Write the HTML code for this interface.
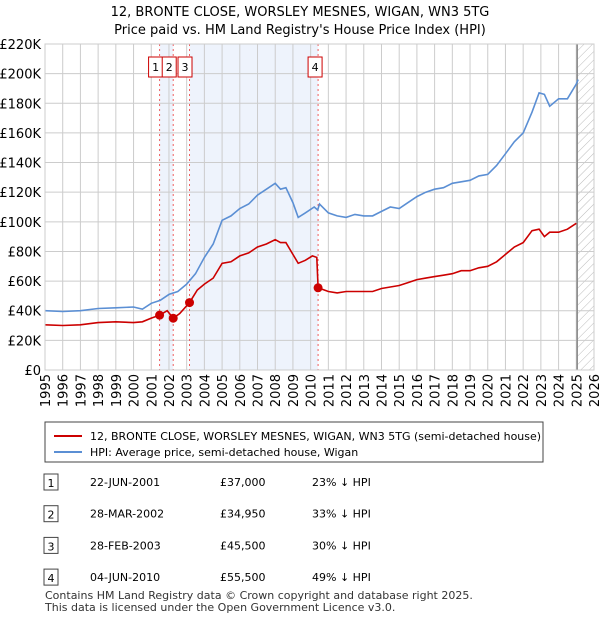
<!DOCTYPE html>
<html><head><meta charset="utf-8"><style>
body{margin:0;width:600px;height:620px;background:#fff;font-family:"Liberation Sans","DejaVu Sans",sans-serif;color:#222;overflow:hidden}
svg text{font-family:"DejaVu Sans","Liberation Sans",sans-serif}
</style></head><body>
<svg id="c" width="600" height="620">
<defs><pattern id="h" width="6" height="6" patternUnits="userSpaceOnUse" patternTransform="rotate(45)"><line x1="0" y1="0" x2="0" y2="6" stroke="#bbb" stroke-width="1"/></pattern></defs>
<text x="300" y="16" text-anchor="middle" font-size="13">12, BRONTE CLOSE, WORSLEY MESNES, WIGAN, WN3 5TG</text>
<text x="300" y="34" text-anchor="middle" font-size="13">Price paid vs. HM Land Registry's House Price Index (HPI)</text>
<g id="g"></g>
<rect x="45" y="422" width="498" height="40" fill="#fff" stroke="#444"/>
<line x1="54" y1="436" x2="82" y2="436" stroke="#cc0000" stroke-width="2"/>
<text x="90" y="440" font-size="11">12, BRONTE CLOSE, WORSLEY MESNES, WIGAN, WN3 5TG (semi-detached house)</text>
<line x1="54" y1="452" x2="82" y2="452" stroke="#5b8fd4" stroke-width="2"/>
<text x="90" y="456" font-size="11">HPI: Average price, semi-detached house, Wigan</text>
<g id="tbl" font-size="11"></g>
<text x="45" y="599" font-size="11" fill="#333">Contains HM Land Registry data © Crown copyright and database right 2025.</text>
<text x="45" y="611" font-size="11" fill="#333">This data is licensed under the Open Government Licence v3.0.</text>
</svg>
<script>
const hpiX=[1995,1996,1997,1998,1999,2000,2000.5,2001,2001.5,2002,2002.5,2003,2003.5,2004,2004.5,2005,2005.5,2006,2006.5,2007,2007.5,2008,2008.3,2008.6,2009,2009.3,2009.7,2010.2,2010.4,2010.5,2011,2011.5,2012,2012.5,2013,2013.5,2014,2014.5,2015,2015.5,2016,2016.5,2017,2017.5,2018,2018.5,2019,2019.5,2020,2020.5,2021,2021.5,2022,2022.5,2022.9,2023.2,2023.5,2024,2024.5,2025,2025.1];
const hpiY=[40,39.5,40,41.5,42,42.5,41,45,47,51,53,58,65,76,85,101,104,109,112,118,122,126,122,123,113,103,106,110,108,112,106,104,103,105,104,104,107,110,109,113,117,120,122,123,126,127,128,131,132,138,146,154,160,174,187,186,178,183,183,193,196];
const ppX=[1995,1996,1997,1998,1999,2000,2000.5,2001,2001.47,2001.9,2002.24,2002.6,2003.16,2003.6,2004,2004.5,2005,2005.5,2006,2006.5,2007,2007.5,2008,2008.3,2008.6,2009,2009.3,2009.7,2010.1,2010.35,2010.42,2011,2011.5,2012,2013,2013.5,2014,2014.5,2015,2015.5,2016,2016.5,2017,2017.5,2018,2018.5,2019,2019.5,2020,2020.5,2021,2021.5,2022,2022.5,2022.9,2023.2,2023.5,2024,2024.5,2025];
const ppY=[30.5,30,30.5,32,32.5,32,32.5,35,37,40,34.95,38,45.5,54,58,62,72,73,77,79,83,85,88,86,86,78,72,74,77,76,55.5,53,52,53,53,53,55,56,57,59,61,62,63,64,65,67,67,69,70,73,78,83,86,94,95,90,93,93,95,99];
const saleX=[2001.47,2002.24,2003.16,2010.42];
const saleY=[37,34.95,45.5,55.5];
const saleLabels=["1","2","3","4"];
const saleDates=["22-JUN-2001","28-MAR-2002","28-FEB-2003","04-JUN-2010"];
const salePrices=["£37,000","£34,950","£45,500","£55,500"];
const saleDiffs=["23% ↓ HPI","33% ↓ HPI","30% ↓ HPI","49% ↓ HPI"];
const yTicks=[0,20,40,60,80,100,120,140,160,180,200,220];
const xTicks=[1995,1996,1997,1998,1999,2000,2001,2002,2003,2004,2005,2006,2007,2008,2009,2010,2011,2012,2013,2014,2015,2016,2017,2018,2019,2020,2021,2022,2023,2024,2025,2026];
const L=45,R=594,T=44,B=370;
const X=v=>L+(v-1995)*(R-L)/31, Y=v=>B-v*(B-T)/220;
const g=document.getElementById('g'),NS='http://www.w3.org/2000/svg';
function el(t,a,p){const e=document.createElementNS(NS,t);for(const k in a)e.setAttribute(k,a[k]);(p||g).appendChild(e);return e;}
let e;
e=el('rect',{x:X(saleX[0]),y:T,width:X(saleX[1])-X(saleX[0]),height:B-T,fill:'#eef3fc'});


e=el('rect',{x:X(saleX[2]),y:T,width:X(saleX[3])-X(saleX[2]),height:B-T,fill:'#eef3fc'});


e=el('rect',{x:X(2025.05),y:T,width:R-X(2025.05),height:B-T,fill:'url(#h)'});


yTicks.forEach(v=>{
 e=el('line',{x1:L,x2:R,y1:Y(v),y2:Y(v),stroke:'#ccc'});
 
 
 e=el('text',{x:L-4,y:Y(v)+5,'text-anchor':'end','font-size':13});e.textContent=v?'£'+v+'K':'£0';
 
 
});
xTicks.forEach(v=>{
 e=el('line',{x1:X(v),x2:X(v),y1:T,y2:B,stroke:'#ccc'});
 
 
 const tx=X(v)+5,ty=B+4;
 e=el('text',{x:tx,y:ty,'text-anchor':'end','font-size':13,transform:'rotate(-90 '+tx+' '+ty+')'});e.textContent=v;
 
 
});
e=el('line',{x1:X(2025.05),x2:X(2025.05),y1:T,y2:B,stroke:'#888','stroke-width':1.5});


saleX.forEach((v,i)=>{
 e=el('line',{x1:X(v),x2:X(v),y1:T,y2:B,stroke:'#f06060','stroke-dasharray':'2,3'});
 
 
});
const path=(xs,ys)=>xs.map((x,i)=>(i?'L':'M')+X(x).toFixed(1)+','+Y(ys[i]).toFixed(1)).join('');
e=el('path',{d:path(hpiX,hpiY),fill:'none',stroke:'#5b8fd4','stroke-width':1.6});


e=el('path',{d:path(ppX,ppY),fill:'none',stroke:'#cc0000','stroke-width':1.6});


const boxX=[-4,-4,-4.5,-3];
saleX.forEach((v,i)=>{
 e=el('circle',{cx:X(v),cy:Y(saleY[i]),r:4.5,fill:'#cc0000'});
 
 
 const bx=X(v)+boxX[i]-7;
 e=el('rect',{x:bx,y:57,width:14,height:20,fill:'#fff',stroke:'#cc0000'});
 
 
 e=el('text',{x:bx+7,y:71,'text-anchor':'middle','font-size':11});e.textContent=saleLabels[i];
 
 
});
e=el('rect',{x:L,y:T,width:R-L,height:B-T,fill:'none',stroke:'#ccc'});


const tb=document.getElementById('tbl');
saleLabels.forEach((s,i)=>{
 const y=486+i*31.7;
 e=el('rect',{x:44,y:y-12,width:14,height:16,fill:'#fff',stroke:'#444'},tb);
 
 
 e=el('text',{x:51,y:y+1,'text-anchor':'middle'},tb);e.textContent=s;
 
 
 e=el('text',{x:90,y:y},tb);e.textContent=saleDates[i];
 
 
 e=el('text',{x:220,y:y},tb);e.textContent=salePrices[i];
 
 
 e=el('text',{x:312,y:y},tb);e.textContent=saleDiffs[i];
 
 
});
</script>
</body></html>
